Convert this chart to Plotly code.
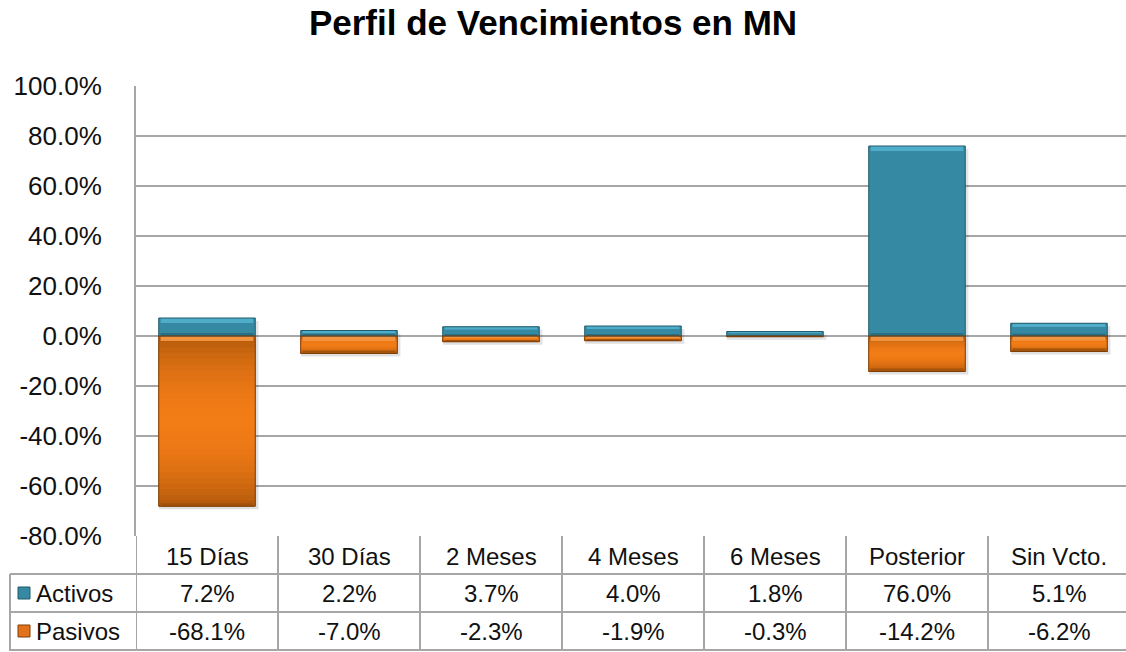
import math
import plotly.graph_objects as go

categories = ["15 Días", "30 Días", "2 Meses", "4 Meses", "6 Meses", "Posterior", "Sin Vcto."]
activos = [7.2, 2.2, 3.7, 4.0, 1.8, 76.0, 5.1]
pasivos = [-68.1, -7.0, -2.3, -1.9, -0.3, -14.2, -6.2]
series_names = ["Activos", "Pasivos"]
y_ticks = [-80, -60, -40, -20, 0, 20, 40, 60, 80, 100]
title = "Perfil de Vencimientos en MN"

W, H = 1126, 652
L, R, T, B = 136, 0, 86, 116
PW, PH = W - L - R, H - T - B
COL = 142.0
UNIT_PX = PH / 180.0

C_ACT = "#3589A2"
C_ACT_HI = "#4FADC9"
C_ACT_LO = "#2A7085"
C_ACT_EDGE = "#215A6B"
C_PAS = "#E2731A"
C_PAS_HI = "#F2933F"
C_PAS_LO = "#A5520B"
C_PAS_EDGE = "#7E3E08"
PAS_DARK = (176, 88, 12)
PAS_BRIGHT = (242, 124, 22)
GRID = "#A6A6A6"
FONT = "Liberation Sans, Arial, sans-serif"
BAR_W = 0.68


def py(p):
    return (H - B - p) / PH


def px(p):
    return (p - L) / PW


def mix(a, b, t):
    return "rgb({},{},{})".format(*[round(a[i] + (b[i] - a[i]) * t) for i in range(3)])


x_idx = list(range(len(categories)))
x_max = -0.5 + PW / COL

fig = go.Figure()

# soft shadow below bars
shadow_off = 3.0 / UNIT_PX
for vals, a in [(activos, 0.10), (pasivos, 0.12)]:
    fig.add_trace(go.Bar(x=[i + 0.012 for i in x_idx], y=vals,
                         base=[-shadow_off] * len(vals), width=BAR_W + 0.02,
                         marker=dict(color=f"rgba(0,0,0,{a})", line=dict(width=0)),
                         hoverinfo="skip"))

fig.add_trace(go.Bar(x=x_idx, y=activos, name=series_names[0], width=BAR_W,
                     marker=dict(color=C_ACT, line=dict(width=0))))
fig.add_trace(go.Bar(x=x_idx, y=pasivos, name=series_names[1], width=BAR_W,
                     marker=dict(color=C_PAS, line=dict(width=0))))

# vertical gradient for Pasivos (overlapping slices of each bar's own value)
N = 30
for k in range(N):
    t = (k + 0.5) / N
    col = mix(PAS_DARK, PAS_BRIGHT, math.sin(math.pi * t) ** 0.8)
    bases = [v * k / N for v in pasivos]
    ends = [v * min(k + 2.0, N) / N for v in pasivos]
    fig.add_trace(go.Bar(x=x_idx, y=[e - b for b, e in zip(bases, ends)],
                         base=bases, width=BAR_W,
                         marker=dict(color=col, line=dict(width=0)), hoverinfo="skip"))


# bevel bands (derived from the data values)
def hi(v):
    return min(5.0 / UNIT_PX, abs(v) * 0.3)


def lo(v):
    return min(3.0 / UNIT_PX, abs(v) * 0.2)


fig.add_trace(go.Bar(x=x_idx, y=[hi(v) for v in activos],
                     base=[v - hi(v) for v in activos], width=BAR_W * 0.96,
                     marker=dict(color=C_ACT_HI, line=dict(width=0)), hoverinfo="skip"))
fig.add_trace(go.Bar(x=x_idx, y=[lo(v) for v in activos],
                     base=[0] * len(activos), width=BAR_W * 0.96,
                     marker=dict(color=C_ACT_LO, line=dict(width=0)), hoverinfo="skip"))
fig.add_trace(go.Bar(x=x_idx, y=[hi(v) for v in pasivos],
                     base=[-hi(v) for v in pasivos], width=BAR_W * 0.96,
                     marker=dict(color=C_PAS_HI, line=dict(width=0)), hoverinfo="skip"))
fig.add_trace(go.Bar(x=x_idx, y=[lo(v) for v in pasivos],
                     base=[v for v in pasivos], width=BAR_W * 0.96,
                     marker=dict(color=C_PAS_LO, line=dict(width=0)), hoverinfo="skip"))
# outlines
fig.add_trace(go.Bar(x=x_idx, y=activos, width=BAR_W,
                     marker=dict(color="rgba(0,0,0,0)", line=dict(color=C_ACT_EDGE, width=1)),
                     hoverinfo="skip"))
fig.add_trace(go.Bar(x=x_idx, y=pasivos, width=BAR_W,
                     marker=dict(color="rgba(0,0,0,0)", line=dict(color=C_PAS_EDGE, width=1)),
                     hoverinfo="skip"))

shapes = []
annotations = []

line_style = dict(color=GRID, width=2)
for yy in [574, 612, 650]:
    shapes.append(dict(type="line", xref="paper", yref="paper", x0=px(10), x1=1.0,
                       y0=py(yy), y1=py(yy), line=line_style, layer="above"))
shapes.append(dict(type="line", xref="paper", yref="paper", x0=px(10), x1=px(10),
                   y0=py(574), y1=py(651), line=line_style))
for i in range(len(categories)):
    shapes.append(dict(type="line", xref="x", yref="paper", x0=i - 0.5, x1=i - 0.5,
                       y0=py(536), y1=py(651), line=line_style))

TF = dict(size=24, color="#111", family=FONT)
row_y = {"head": 556, "act": 593, "pas": 631}
for i, cat in enumerate(categories):
    for key, txt in [("head", cat), ("act", f"{activos[i]:.1f}%"), ("pas", f"{pasivos[i]:.1f}%")]:
        annotations.append(dict(x=i, y=py(row_y[key]), xref="x", yref="paper", text=txt,
                                xanchor="center", yanchor="middle",
                                showarrow=False, font=TF))

for name, col, edge, yy in [(series_names[0], C_ACT, C_ACT_EDGE, row_y["act"]),
                            (series_names[1], C_PAS, C_PAS_EDGE, row_y["pas"])]:
    shapes.append(dict(type="rect", xref="paper", yref="paper", x0=px(18), x1=px(30),
                       y0=py(yy + 6), y1=py(yy - 6), fillcolor=col,
                       line=dict(color=edge, width=1)))
    annotations.append(dict(x=px(34), y=py(yy), xref="paper", yref="paper", text=name,
                            xanchor="left", yanchor="middle", showarrow=False, font=TF))

fig.update_layout(
    width=W, height=H,
    margin=dict(l=L, r=R, t=T, b=B, pad=0),
    paper_bgcolor="white", plot_bgcolor="white",
    barmode="overlay",
    showlegend=False,
    title=dict(text=f"<b>{title}</b>", x=553 / W, xanchor="center", y=1 - 23 / H,
               yanchor="middle", font=dict(size=35, color="#000", family=FONT)),
    xaxis=dict(range=[-0.5, x_max], showticklabels=False, showgrid=False,
               zeroline=False, showline=False, fixedrange=True),
    yaxis=dict(range=[-80, 100], tickvals=y_ticks,
               ticktext=[f"{v:.1f}%" for v in y_ticks],
               showgrid=True, gridcolor=GRID, gridwidth=1.5, zeroline=False,
               showline=True, linecolor=GRID, linewidth=2,
               ticks="", ticklabelstandoff=27,
               tickfont=dict(size=26, color="#111", family=FONT)),
    shapes=shapes,
    annotations=annotations,
)

fig.write_html("out.html", config={"displayModeBar": False},
               post_script="document.body.style.margin='0';document.body.style.overflow='hidden';")
